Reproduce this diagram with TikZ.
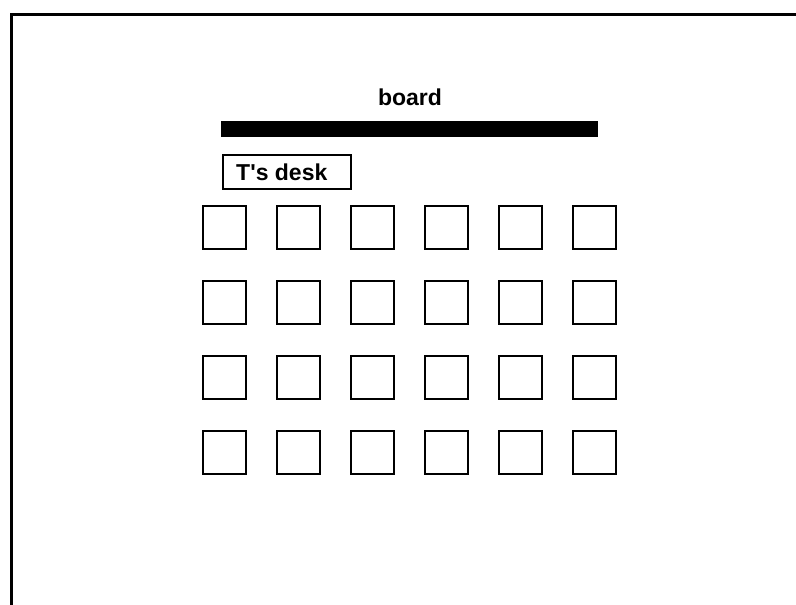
\documentclass[tikz,border=0pt]{standalone}
\usepackage{fontspec}
\setmainfont{Liberation Sans}
\newfontfamily\plainsans{Liberation Sans}
\begin{document}
\begin{tikzpicture}[x=1pt,y=-1pt,
  seat/.style={draw=black,line width=2pt,minimum width=43pt,minimum height=43pt,inner sep=0pt},
  lbl/.style={font=\plainsans\fontsize{23}{23}\selectfont\bfseries,inner sep=0pt}]
\useasboundingbox (0,0) rectangle (796,605);
\draw[line width=3pt] (11,605) -- (11,14) -- (796,14);
\fill[black] (221,121) rectangle (598,137);
\node[lbl] (boardlbl) at (410,97) {board};
\node[draw=black,line width=1.6pt,minimum width=128pt,minimum height=34pt,inner sep=0pt,anchor=north west] (desk) at (222,154) {};
\node[lbl] (desklbl) at ([xshift=-5pt]desk.center) {T's desk};
\foreach \i in {0,...,5}
  \foreach \j in {0,...,3}
    \node[seat] (s-\i-\j) at ({224.5+74*\i},{227.5+75*\j}) {};
\end{tikzpicture}
\end{document}
